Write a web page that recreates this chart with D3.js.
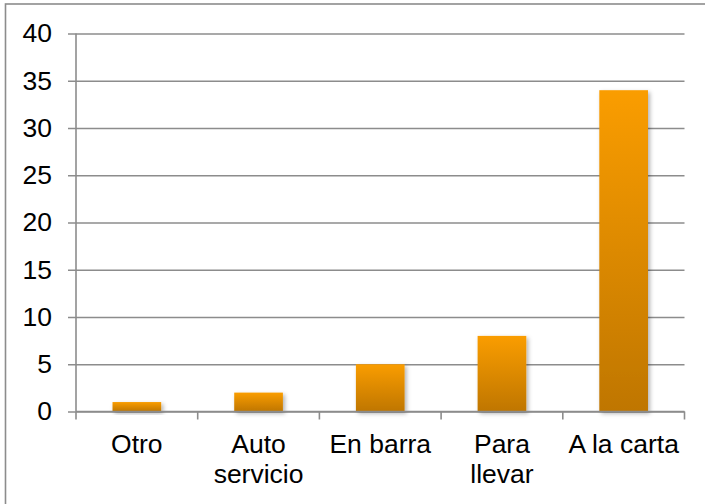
<!DOCTYPE html>
<html>
<head>
<meta charset="utf-8">
<script src="https://cdn.jsdelivr.net/npm/d3@7"></script>
<style>
html,body{margin:0;padding:0;background:#fff;}
svg{display:block;}
text{font-family:"Liberation Sans",Arial,sans-serif;fill:#000;}
</style>
</head>
<body>
<svg id="chart" width="705" height="504"></svg>
<script>
const categories = [["Otro"], ["Auto", "servicio"], ["En barra"], ["Para", "llevar"], ["A la carta"]];
const values = [1, 2, 5, 8, 34];
const yTicks = [0, 5, 10, 15, 20, 25, 30, 35, 40];

const svg = d3.select("#chart");
const W = 705, H = 504;
const m = {left: 76, right: 20.5, top: 33.5, bottom: 92.5};
const x0 = m.left, x1 = W - m.right, yTop = m.top, yBot = H - m.bottom;
const FS = 26.5;

const keys = categories.map((c, i) => i);
const x = d3.scaleBand().domain(keys).range([x0, x1]).paddingInner(0.6).paddingOuter(0.3);
const xb = d3.scaleBand().domain(keys).range([x0, x1]).padding(0);
const y = d3.scaleLinear().domain([0, 40]).range([yBot, yTop]);

// outer border
svg.append("rect").attr("x", 5.5).attr("y", 4).attr("width", W + 10).attr("height", H + 10)
  .attr("fill", "none").attr("stroke", "#8c8c8c").attr("stroke-width", 1.6);

const defs = svg.append("defs");
const grad = defs.append("linearGradient").attr("id", "barGrad")
  .attr("x1", 0).attr("y1", 0).attr("x2", 0).attr("y2", 1);
grad.append("stop").attr("offset", "0%").attr("stop-color", "#FA9D00");
grad.append("stop").attr("offset", "100%").attr("stop-color", "#BF7605");
const f = defs.append("filter").attr("id", "shadow").attr("x", "-20%").attr("y", "-20%").attr("width", "150%").attr("height", "150%");
f.append("feDropShadow").attr("dx", 2).attr("dy", 2).attr("stdDeviation", 2)
  .attr("flood-color", "#000").attr("flood-opacity", 0.3);

// gridlines + y axis
const yAxis = d3.axisLeft(y).tickValues(yTicks).tickSize(-(x1 - x0)).tickPadding(24).tickFormat(d3.format("d"));
const gy = svg.append("g").attr("transform", `translate(${x0},0)`).call(yAxis);
gy.select(".domain").remove();
gy.selectAll(".tick line").attr("stroke", "#8c8c8c").attr("stroke-width", 1.6).attr("x1", -8);
gy.selectAll(".tick text").attr("font-size", FS).attr("font-family", "Liberation Sans, Arial, sans-serif").attr("fill", "#000").attr("dy", "0.32em");

// y axis line
svg.append("line").attr("x1", x0).attr("x2", x0).attr("y1", yTop).attr("y2", yBot)
  .attr("stroke", "#8c8c8c").attr("stroke-width", 1.6);

// bars
svg.append("g").selectAll("rect").data(values).join("rect")
  .attr("x", (d, i) => x(i)).attr("width", x.bandwidth())
  .attr("y", d => y(d)).attr("height", d => y(0) - y(d))
  .attr("fill", "url(#barGrad)").attr("filter", "url(#shadow)");

// x axis
const xAxis = d3.axisBottom(xb).tickSize(0).tickFormat("");
const gx = svg.append("g").attr("transform", `translate(0,${yBot})`).call(xAxis);
gx.select(".domain").attr("stroke", "#8c8c8c").attr("stroke-width", 1.6).attr("d", `M${x0},0H${x1}`);
const bounds = keys.map(k => xb(k)).concat([x1]);
svg.append("g").selectAll("line").data(bounds).join("line")
  .attr("x1", d => d).attr("x2", d => d).attr("y1", yBot).attr("y2", yBot + 8)
  .attr("stroke", "#8c8c8c").attr("stroke-width", 1.6);

// x labels
const lab = svg.append("g").selectAll("text").data(categories).join("text")
  .attr("text-anchor", "middle").attr("font-size", FS)
  .attr("x", (d, i) => xb(i) + xb.bandwidth() / 2).attr("y", 453);
lab.selectAll("tspan").data(d => d).join("tspan")
  .attr("x", function() { return d3.select(this.parentNode).attr("x"); })
  .attr("dy", (d, i) => i === 0 ? 0 : 30).text(d => d);
</script>
</body>
</html>
